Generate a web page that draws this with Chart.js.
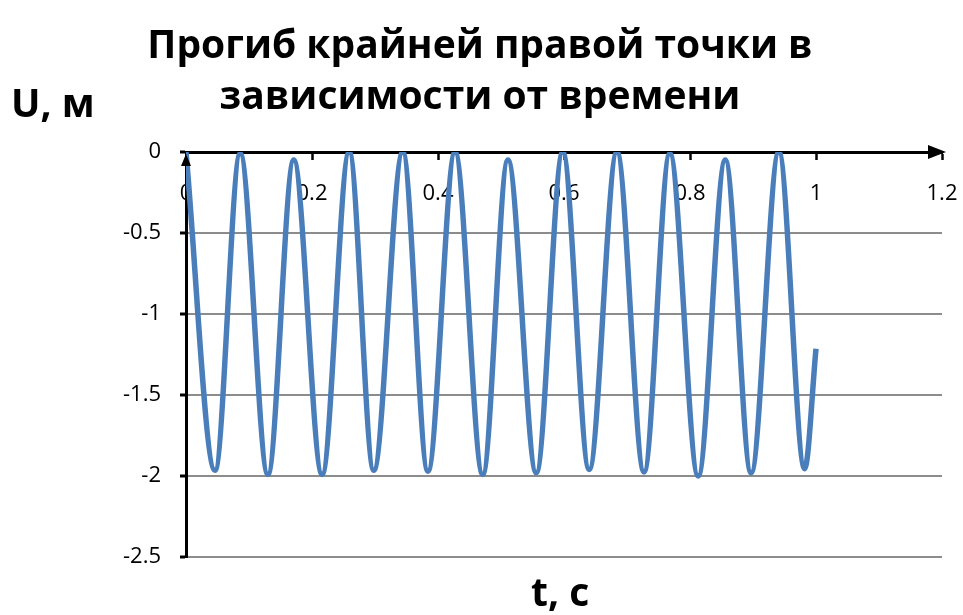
<!DOCTYPE html>
<html>
<head>
<meta charset="utf-8">
<script src="https://cdn.jsdelivr.net/npm/chart.js@4"></script>
<style>
  body { margin: 0; background: #fff; }
  #wrap { width: 963px; height: 615px; }
</style>
</head>
<body>
<div id="wrap"><canvas id="myChart" width="963" height="615"></canvas></div>
<script>
// прогиб U (м) в моменты времени t (с): экстремумы
var tValues = [0, 0.046, 0.086, 0.130, 0.171, 0.216, 0.259, 0.298, 0.344, 0.384, 0.427, 0.471,
               0.511, 0.556, 0.598, 0.640, 0.684, 0.727, 0.768, 0.813, 0.856, 0.897, 0.941, 0.982, 1.0];
var uValues = [0, -1.965, -0.01, -1.99, -0.05, -1.99, 0, -1.965, 0, -1.97, 0, -1.99,
               -0.05, -1.98, 0, -1.96, 0, -1.975, -0.01, -2.0, -0.05, -1.98, 0, -1.955, -1.215];

var xTicks = [0, 0.2, 0.4, 0.6, 0.8, 1, 1.2];
var yTicks = [0, -0.5, -1, -1.5, -2, -2.5];

var titleLines = ['Прогиб крайней правой точки в', 'зависимости от времени'];
var yCaption = 'U, м';
var xCaption = 't, c';

var points = tValues.map(function(t, i) { return {x: t, y: uValues[i]}; });

// подписи и стрелки осей
var decorPlugin = {
  id: 'decor',
  afterDraw: function(chart) {
    var ctx = chart.ctx;
    var area = chart.chartArea;
    var x0 = chart.scales.x.getPixelForValue(0);
    var y0 = chart.scales.y.getPixelForValue(0);
    ctx.save();
    ctx.fillStyle = '#000';
    // стрелка оси t
    ctx.beginPath();
    ctx.moveTo(area.right + 4, y0);
    ctx.lineTo(area.right - 14, y0 - 7);
    ctx.lineTo(area.right - 14, y0 + 7);
    ctx.closePath();
    ctx.fill();
    // стрелка оси U
    ctx.beginPath();
    ctx.moveTo(x0, y0 + 2);
    ctx.lineTo(x0 - 5, y0 + 14);
    ctx.lineTo(x0 + 5, y0 + 14);
    ctx.closePath();
    ctx.fill();

    ctx.font = 'bold 39px "Open Sans"';
    ctx.textAlign = 'center';
    ctx.textBaseline = 'alphabetic';
    ctx.fillText(titleLines[0], 480, 58);
    ctx.fillText(titleLines[1], 480, 109);
    ctx.textAlign = 'left';
    ctx.fillText(yCaption, 11, 117);
    ctx.fillText(xCaption, 531, 606);
    ctx.restore();
  }
};

var ctx = document.getElementById('myChart').getContext('2d');
new Chart(ctx, {
  type: 'line',
  data: {
    datasets: [{
      data: points,
      borderColor: '#4a7ebb',
      borderWidth: 5.5,
      pointRadius: 0,
      cubicInterpolationMode: 'monotone',
      fill: false
    }]
  },
  options: {
    responsive: false,
    animation: false,
    layout: { padding: { top: 152, left: 0, right: 21, bottom: 58 } },
    plugins: { legend: { display: false }, tooltip: { enabled: false }, title: { display: false } },
    scales: {
      x: {
        type: 'linear',
        position: { y: 0 },
        min: 0,
        max: 1.2,
        afterFit: function(scale) { scale.paddingLeft = 0; scale.paddingRight = 0; },
        afterBuildTicks: function(scale) { scale.ticks = xTicks.map(function(v) { return {value: v}; }); },
        ticks: {
          callback: function(v) { return String(v); },
          font: { family: 'Open Sans', size: 22 },
          color: '#000',
          padding: 23,
          maxRotation: 0
        },
        grid: { display: true, drawOnChartArea: false, drawTicks: true, tickLength: 6, tickColor: '#000', tickWidth: 2.5 },
        border: { display: true, color: '#000', width: 3 }
      },
      y: {
        type: 'linear',
        position: 'left',
        min: -2.5,
        max: 0,
        afterFit: function(scale) { scale.width = 186; },
        afterBuildTicks: function(scale) { scale.ticks = yTicks.map(function(v) { return {value: v}; }); },
        ticks: {
          callback: function(v) { return String(v); },
          font: { family: 'Open Sans', size: 22 },
          color: '#000',
          padding: 19
        },
        grid: { color: '#8c8c8c', lineWidth: 2, tickLength: 6, tickColor: '#000', tickWidth: 3 },
        border: { display: true, color: '#000', width: 3 }
      }
    }
  },
  plugins: [decorPlugin]
});
</script>
</body>
</html>
